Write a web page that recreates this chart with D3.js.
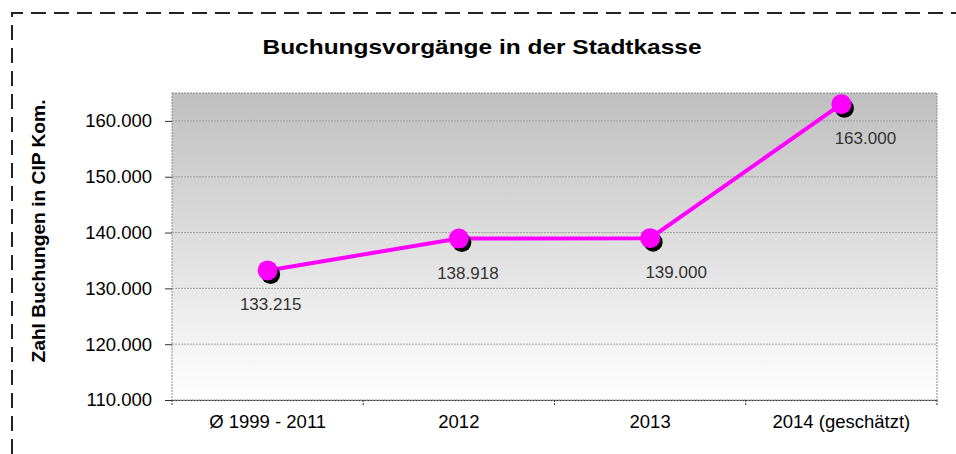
<!DOCTYPE html>
<html><head><meta charset="utf-8">
<script src="https://cdn.jsdelivr.net/npm/d3@7"></script>
<style>
html,body{margin:0;padding:0;background:#fff;}
svg{display:block;font-family:"Liberation Sans",Arial,sans-serif;}
</style></head>
<body>
<svg id="c" width="956" height="454"></svg>
<script>
const categories = ["Ø 1999 - 2011", "2012", "2013", "2014 (geschätzt)"];
const values = [133215, 138918, 139000, 163000];
const valueLabels = ["133.215", "138.918", "139.000", "163.000"];
const yTicks = [110000, 120000, 130000, 140000, 150000, 160000];
const title = "Buchungsvorgänge in der Stadtkasse";
const yTitle = "Zahl Buchungen in CIP Kom.";

const svg = d3.select("#c");
const W = 956, H = 454;
const m = {left: 172, right: 937, top: 93, bottom: 400};

// dashed frame
svg.append("path")
  .attr("d", `M12,${H} L12,13 L${W},13`)
  .attr("fill", "none").attr("stroke", "#222").attr("stroke-width", 2)
  .attr("stroke-dasharray", "15,8");

const defs = svg.append("defs");
const g = defs.append("linearGradient").attr("id", "bg").attr("x1", 0).attr("y1", 0).attr("x2", 0).attr("y2", 1);
g.append("stop").attr("offset", "0%").attr("stop-color", "#bfbfbf");
g.append("stop").attr("offset", "100%").attr("stop-color", "#ffffff");

const x = d3.scaleBand().domain(categories).range([m.left, m.right]);
const y = d3.scaleLinear().domain([110000, 165000]).range([m.bottom, m.top]);

svg.append("rect").attr("x", m.left).attr("y", m.top)
  .attr("width", m.right - m.left).attr("height", m.bottom - m.top)
  .attr("fill", "url(#bg)").attr("stroke", "#8a8a8a").attr("stroke-width", 1)
  .attr("stroke-dasharray", "2,1");

// gridlines
svg.append("g").selectAll("line").data(yTicks.filter(t => t > 110000)).join("line")
  .attr("x1", m.left).attr("x2", m.right)
  .attr("y1", d => y(d)).attr("y2", d => y(d))
  .attr("stroke", "#a0a0a0").attr("stroke-width", 1).attr("stroke-dasharray", "2,1");

const fmt = d => d3.format(",")(d).replace(/,/g, ".");

// y axis
const ya = svg.append("g").attr("transform", `translate(${m.left},0)`)
  .call(d3.axisLeft(y).tickValues(yTicks).tickFormat(fmt).tickSize(7).tickPadding(13));
ya.select(".domain").remove();
ya.selectAll(".tick line").attr("stroke", "#333");
ya.selectAll("text").attr("font-size", 18.5).attr("fill", "#000")
  .attr("font-family", "Liberation Sans, Arial, sans-serif");

// x axis
const xa = svg.append("g").attr("transform", `translate(0,${m.bottom})`)
  .call(d3.axisBottom(x).tickSize(0).tickPadding(15));
xa.select(".domain").attr("stroke", "#333").attr("stroke-dasharray", "2,1");
xa.selectAll("text").attr("font-size", 18.5).attr("fill", "#000")
  .attr("font-family", "Liberation Sans, Arial, sans-serif");
// category separator ticks
svg.append("g").selectAll("line").data(categories.concat(["end"])).join("line")
  .attr("x1", (d, i) => i < categories.length ? x(d) : x.range()[1])
  .attr("x2", (d, i) => i < categories.length ? x(d) : x.range()[1])
  .attr("y1", m.bottom).attr("y2", m.bottom + 6)
  .attr("stroke", "#333").attr("stroke-dasharray", "2,1");

const cx = d => x(d) + x.bandwidth() / 2;
const pts = categories.map((c, i) => [cx(c), y(values[i])]);

// line
svg.append("path").datum(pts).attr("d", d3.line())
  .attr("fill", "none").attr("stroke", "#ff00ff").attr("stroke-width", 4);

// markers: shadow + magenta
svg.append("g").selectAll("circle").data(pts).join("circle")
  .attr("cx", d => d[0] + 3).attr("cy", d => d[1] + 4).attr("r", 9.5).attr("fill", "#000");
svg.append("g").selectAll("circle").data(pts).join("circle")
  .attr("cx", d => d[0]).attr("cy", d => d[1]).attr("r", 10).attr("fill", "#ff00ff");

// data labels
const lblDx = [3, 9, 26, 24];
svg.append("g").selectAll("text").data(pts).join("text")
  .attr("x", (d, i) => d[0] + lblDx[i]).attr("y", d => d[1] + 40)
  .attr("text-anchor", "middle").attr("font-size", 17).attr("fill", "#333")
  .text((d, i) => valueLabels[i]);

// title
svg.append("text").attr("x", 482).attr("y", 54).attr("text-anchor", "middle")
  .attr("font-size", 21).attr("font-weight", "bold").attr("fill", "#000")
  .attr("textLength", 439).attr("lengthAdjust", "spacingAndGlyphs").text(title);

// y title
svg.append("text").attr("transform", `translate(45,231) rotate(-90)`)
  .attr("text-anchor", "middle").attr("font-size", 18).attr("font-weight", "bold")
  .attr("fill", "#000").attr("textLength", 263).attr("lengthAdjust", "spacingAndGlyphs").text(yTitle);
</script>
</body></html>
